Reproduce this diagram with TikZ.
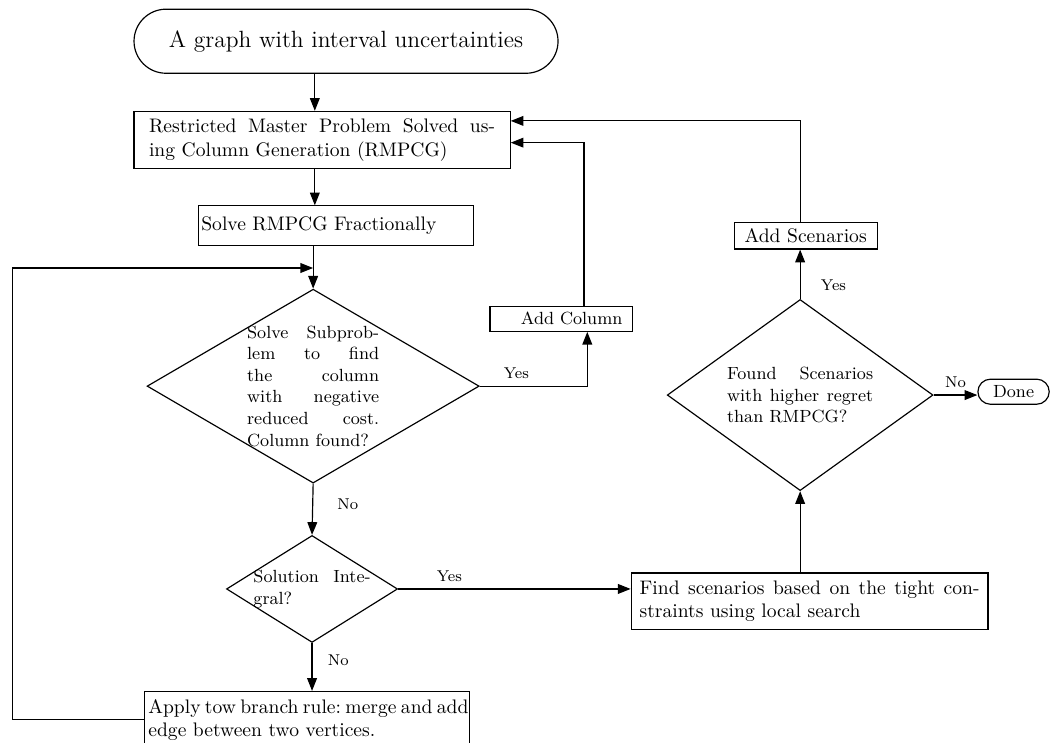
\documentclass[tikz,border=0pt]{standalone}
\usepackage{amsmath}
\usetikzlibrary{shapes.geometric,shapes.misc,positioning,arrows.meta}

\begin{document}
\begin{tikzpicture}[>={Triangle[length=6.5pt,width=5pt]},semithick]
  \tikzstyle{terminal}=[draw, rounded rectangle, inner sep=2pt]
  \tikzstyle{process}=[draw, rectangle, align=justify, inner ysep=3pt]
  \tikzstyle{decision}=[draw, diamond, font=\small, align=justify, inner sep=0pt]
  \tikzstyle{lbl}=[font=\footnotesize]

  \useasboundingbox (0,0) rectangle (18.88,-13.32);

  %--- Main column ---
  \node[terminal, font=\large, minimum width=7.75cm, minimum height=1.15cm] (start) at (6.21,-0.74)
    {A graph with interval uncertainties};
  \node[process, text width=176.7pt, inner xsep=7.7pt, minimum height=1.02cm] (rmp) at (5.78,-2.51)
    {Restricted Master Problem Solved us-\linebreak ing Column Generation (RMPCG)};
  \node[process, align=left, text width=137.5pt, inner xsep=1.5pt, minimum height=0.71cm] (solve) at (6.03,-4.05)
    {Solve RMPCG Fractionally};
  \node[decision, text width=67.4pt, aspect=1.71, inner sep=-1.5pt,
        minimum width=5.96cm, minimum height=3.48cm] (dia1) at (5.62,-6.93)
    {Solve Subprob-\linebreak lem to find\linebreak the column\linebreak with negative\linebreak reduced cost.\linebreak Column found?};
  \node[decision, text width=59.8pt, aspect=1.6, inner sep=-1.5pt,
        minimum width=3.07cm, minimum height=1.92cm] (dia3) at (5.60,-10.57)
    {Solution Inte-\linebreak gral?};
  \node[process, text width=162pt, inner xsep=2.1pt, minimum height=1.02cm] (apply) at (5.51,-12.92)
    {Apply~tow~branch~rule:~merge~and~add\linebreak edge between two vertices.};

  %--- Column and scenario side ---
  \node[process, font=\small, align=right, text width=62.6pt, inner xsep=5pt, inner ysep=1pt,
        minimum height=0.45cm] (addcol) at (10.07,-5.72) {Add Column};
  \node[process, align=center, minimum width=2.57cm, minimum height=0.48cm, inner ysep=1pt] (addscen) at (14.46,-4.23)
    {Add Scenarios};
  \node[decision, text width=74.6pt, aspect=1.39,
        minimum width=4.77cm, minimum height=3.43cm] (dia2) at (14.36,-7.09)
    {Found Scenarios\linebreak with higher regret\linebreak than RMPCG?};
  \node[process, text width=173.6pt, inner xsep=4.3pt, minimum height=1.01cm] (find) at (14.53,-10.79)
    {Find scenarios based on the tight con-\linebreak straints using local search};
  \node[terminal, font=\small, minimum width=1.42cm, minimum height=0.45cm] (done) at (18.19,-7.03) {Done};

  % helper points for the spine and the loop back
  \coordinate (spine) at (5.65,0);
  \coordinate (back) at (0.22,-4.81);

  %--- Connectors ---
  \path[->]
    (start.south -| spine) edge (rmp.north -| spine)
    (rmp.south -| spine) edge (solve.north -| spine)
    (solve.south -| dia1.north) edge (dia1.north)
    (dia1.south) edge node[lbl, right=9pt, pos=0.4] {No} (dia3.north)
    (dia3.south) edge node[lbl, right=4.5pt, pos=0.36] {No} (dia3.south |- apply.north)
    (dia3.east) edge node[lbl, above, pos=0.22] {Yes} (dia3.east -| find.west)
    (find.north -| dia2.south) edge (dia2.south)
    (dia2.north) edge node[lbl, right=7pt, pos=0.27] {Yes} (addscen.south -| dia2.north)
    (dia2.east) edge node[lbl, above] {No} (dia2.east -| done.west);

  % found a column: add it and go back to the master problem
  \draw[->] (dia1.east) -| node[lbl, above, pos=0.17] {Yes} ([xshift=0.47cm]addcol.south);
  \draw[->] ([xshift=0.41cm]addcol.north) |- ([yshift=-0.05cm]rmp.east);
  % new scenarios go back to the master problem too
  \draw[->] (addscen.north -| dia2.north) |- ([yshift=0.34cm]rmp.east);
  % branching loops back above the subproblem
  \draw[->] (apply.west) -| (back) -- (back -| dia1.north);
\end{tikzpicture}
\end{document}
